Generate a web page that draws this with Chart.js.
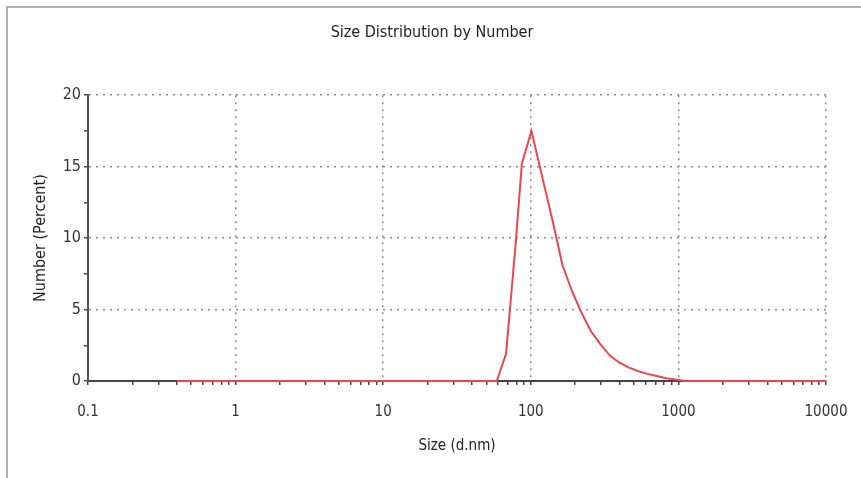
<!DOCTYPE html>
<html>
<head>
<meta charset="utf-8">
<script src="https://cdn.jsdelivr.net/npm/chart.js@4"></script>
<style>
  body { margin: 0; background: #fff; }
  canvas { display: block; }
</style>
</head>
<body>
<canvas id="sizeChart" width="861" height="478"></canvas>
<script>
// Size (d.nm) and Number (%)
const sizes = [0.4, 58.8, 68, 78.8, 87, 101, 122, 142, 164, 190, 220, 255, 295, 342, 396, 459, 531, 615, 712, 825, 955, 1106, 10000];
const numberPct = [0, 0, 1.9, 9.5, 15.2, 17.5, 13.9, 11.0, 8.1, 6.3, 4.8, 3.5, 2.6, 1.8, 1.3, 0.95, 0.7, 0.5, 0.35, 0.2, 0.1, 0, 0];

const xTickLabels = ['0.1', '1', '10', '100', '1000', '10000'];
const yTickLabels = [0, 5, 10, 15, 20];

const FONT = "'DejaVu Sans Condensed', 'DejaVu Sans', sans-serif";

// log ticks: every 1..9 step in each decade
function logTicks() {
  const out = [];
  xTickLabels.forEach((lab, i) => {
    const base = parseFloat(lab);
    if (i === xTickLabels.length - 1) { out.push({ value: base }); return; }
    for (let k = 1; k <= 9; k++) out.push({ value: base * k });
  });
  return out;
}

function isDecade(v) {
  const l = Math.log10(v);
  return Math.abs(l - Math.round(l)) < 1e-9;
}

// outer frame of the report panel
const framePlugin = {
  id: 'frame',
  beforeDraw(chart) {
    const ctx = chart.ctx;
    ctx.save();
    ctx.fillStyle = '#fff';
    ctx.fillRect(0, 0, chart.width, chart.height);
    ctx.strokeStyle = '#b0b0b0';
    ctx.lineWidth = 2;
    ctx.beginPath();
    ctx.moveTo(7, chart.height);
    ctx.lineTo(7, 7);
    ctx.lineTo(chart.width, 7);
    ctx.stroke();
    ctx.restore();
  }
};

const ctx = document.getElementById('sizeChart').getContext('2d');
const chart = new Chart(ctx, {
  type: 'line',
  data: {
    datasets: [{
      data: sizes.map((s, i) => ({ x: s, y: numberPct[i] })),
      borderColor: '#e8474b',
      borderWidth: 2,
      pointRadius: 0,
      tension: 0,
      clip: 6
    }]
  },
  options: {
    responsive: false,
    animation: false,
    layout: { padding: { left: 38, right: 35, top: 0, bottom: 0 } },
    plugins: {
      legend: { display: false },
      tooltip: { enabled: false },
      title: {
        display: true,
        text: 'Size Distribution by Number',
        color: '#222',
        font: { family: FONT, size: 16, weight: 'normal' },
        padding: { top: 23, bottom: 53 }
      }
    },
    scales: {
      x: {
        type: 'logarithmic',
        min: 0.1,
        max: 10000,
        afterBuildTicks(scale) { scale.ticks = logTicks(); },
        afterFit(scale) {
          scale.height = 97;
          scale.paddingLeft = 15;
          scale.paddingRight = 25;
        },
        ticks: {
          autoSkip: false,
          maxRotation: 0,
          padding: 18,
          color: '#333',
          font: { family: FONT, size: 15 },
          callback: v => isDecade(v) ? xTickLabels[Math.round(Math.log10(v)) + 1] : ''
        },
        grid: {
          color: c => (c.tick && isDecade(c.tick.value)) ? '#8a8a8a' : 'transparent',
          tickColor: '#444',
          tickLength: 4,
          lineWidth: 1.5
        },
        border: { display: true, color: '#444', width: 2, dash: [2, 5] },
        title: {
          display: true,
          text: 'Size (d.nm)',
          color: '#222',
          font: { family: FONT, size: 15 },
          padding: { top: 0, bottom: 23 }
        }
      },
      y: {
        min: 0,
        max: 20,
        afterFit(scale) { scale.width = 50; },
        ticks: {
          stepSize: 2.5,
          padding: 3,
          color: '#333',
          font: { family: FONT, size: 16 },
          callback: v => yTickLabels.includes(v) ? String(v) : ''
        },
        grid: {
          color: c => (c.tick && c.tick.value % 5 === 0) ? '#8a8a8a' : 'transparent',
          tickColor: '#444',
          tickLength: 4,
          lineWidth: 1.5
        },
        border: { display: true, color: '#555', width: 2, dash: [2, 5] },
        title: {
          display: true,
          text: 'Number (Percent)',
          color: '#222',
          font: { family: FONT, size: 16 },
          padding: { top: -7, bottom: 0 }
        }
      }
    }
  },
  plugins: [framePlugin]
});
</script>
</body>
</html>
